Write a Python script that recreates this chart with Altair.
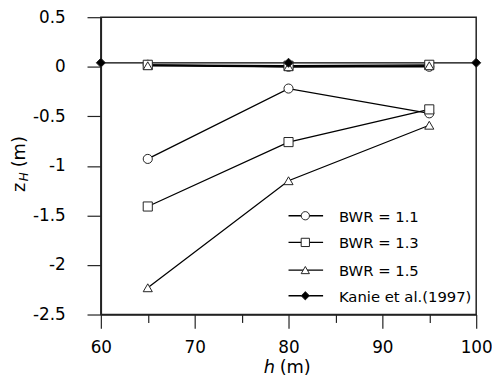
import altair as alt
import pandas as pd

# ---- data ----
h_bwr = [65, 80, 95]
z_bwr11 = [-0.93, -0.22, -0.47]
z_bwr13 = [-1.41, -0.76, -0.43]
z_bwr15 = [-2.23, -1.15, -0.59]
z0_bwr11 = [0.02, 0.00, 0.00]
z0_bwr13 = [0.02, 0.01, 0.02]
z0_bwr15 = [0.01, 0.00, 0.01]
h_kanie = [60, 80, 100]
z_kanie = [0.04, 0.04, 0.04]

series_names = ["BWR = 1.1", "BWR = 1.3", "BWR = 1.5", "Kanie et al.(1997)"]
shapes = ["circle", "square", "triangle-up", "diamond"]
fills = ["white", "white", "white", "black"]

x_ticks = [60, 65, 70, 75, 80, 85, 90, 95, 100]
y_ticks = [-2.5, -2.25, -2.0, -1.75, -1.5, -1.25, -1.0, -0.75, -0.5, -0.25, 0.0, 0.25, 0.5]

FONT = "DejaVu Sans"
INK = "#222222"
LBL = 17

rows = []
for name, low, top in zip(series_names[:3], [z_bwr11, z_bwr13, z_bwr15],
                          [z0_bwr11, z0_bwr13, z0_bwr15]):
    for h, z in zip(h_bwr, low):
        rows.append({"h": h, "z": z, "series": name, "grp": name + " low"})
    for h, z in zip(h_bwr, top):
        rows.append({"h": h, "z": z, "series": name, "grp": name + " top"})
for h, z in zip(h_kanie, z_kanie):
    rows.append({"h": h, "z": z, "series": series_names[3], "grp": "kanie"})
df = pd.DataFrame(rows)

x_enc = alt.X(
    "h:Q",
    scale=alt.Scale(domain=[60, 100], nice=False, zero=False),
    axis=alt.Axis(
        values=x_ticks,
        labelExpr="datum.value % 10 === 0 ? '' + datum.value : ''",
        tickSize={"condition": {"test": "datum.value % 10 === 0", "value": 14}, "value": 8},
        title=None, grid=False, domainColor=INK, tickColor=INK, domainWidth=1.5, tickWidth=1.2,
        labelFont=FONT, labelFontSize=LBL, labelColor="black", labelPadding=11, labelFlush=False,
    ),
)
y_enc = alt.Y(
    "z:Q",
    scale=alt.Scale(domain=[-2.5, 0.5], nice=False, zero=False),
    axis=alt.Axis(
        values=y_ticks,
        labelExpr="abs(datum.value*2 - round(datum.value*2)) < 0.001 ? '' + datum.value : ''",
        tickSize={"condition": {"test": "abs(datum.value*2 - round(datum.value*2)) < 0.001", "value": 14}, "value": 8},
        title=None, grid=False, domainColor=INK, tickColor=INK, domainWidth=1.5, tickWidth=1.2,
        labelFont=FONT, labelFontSize=LBL, labelColor="black", labelPadding=22, labelFlush=False,
    ),
)

base = alt.Chart(df)
lines = base.mark_line(color="black", strokeWidth=1.3).encode(
    x=x_enc, y=y_enc, detail="grp:N", order="h:Q"
)
points = base.mark_point(filled=True, stroke=INK, strokeWidth=1, opacity=1, size=85).encode(
    x="h:Q", y="z:Q",
    shape=alt.Shape("series:N", scale=alt.Scale(domain=series_names, range=shapes), legend=None),
    fill=alt.Fill("series:N", scale=alt.Scale(domain=series_names, range=fills), legend=None),
)

one = pd.DataFrame({"k": [0]})
layers = [lines, points]

# manual legend (line through symbol)
legend_y = [201, 228, 256, 282]
for i, name in enumerate(series_names):
    ly = legend_y[i]
    b = alt.Chart(one)
    layers.append(b.mark_rule(color="black", strokeWidth=1.3).encode(
        x=alt.value(190), x2=alt.value(225), y=alt.value(ly)))
    layers.append(b.mark_point(shape=shapes[i], filled=True, fill=fills[i], stroke=INK,
                               strokeWidth=1, opacity=1, size=70).encode(
        x=alt.value(207), y=alt.value(ly)))
    layers.append(b.mark_text(text=name, align="left", baseline="middle", font=FONT,
                              fontSize=15, color="black").encode(
        x=alt.value(241), y=alt.value(ly + 1)))

# axis titles
b = alt.Chart(one)
layers.append(b.mark_text(text="h", fontStyle="italic", align="left", baseline="alphabetic",
                          font=FONT, fontSize=18, color="black").encode(
    x=alt.value(165), y=alt.value(360)))
layers.append(b.mark_text(text="(m)", align="left", baseline="alphabetic",
                          font=FONT, fontSize=18, color="black").encode(
    x=alt.value(181), y=alt.value(360)))
layers.append(b.mark_text(text="z", angle=270, align="left", baseline="alphabetic",
                          font=FONT, fontSize=18, color="black").encode(
    x=alt.value(-77), y=alt.value(177)))
layers.append(b.mark_text(text="H", angle=270, fontStyle="italic", align="left", baseline="alphabetic",
                          font=FONT, fontSize=12, color="black").encode(
    x=alt.value(-74), y=alt.value(166)))
layers.append(b.mark_text(text="(m)", angle=270, align="left", baseline="alphabetic",
                          font=FONT, fontSize=18, color="black").encode(
    x=alt.value(-77), y=alt.value(152)))

chart = alt.layer(*layers).properties(
    width=380, height=301,
    autosize=alt.AutoSizeParams(type="none"),
    padding={"left": 94, "top": 7, "right": 16, "bottom": 66},
).configure_view(stroke=INK, strokeWidth=1.5)

chart.save("out.html", embed_options={"renderer": "svg", "actions": False})
